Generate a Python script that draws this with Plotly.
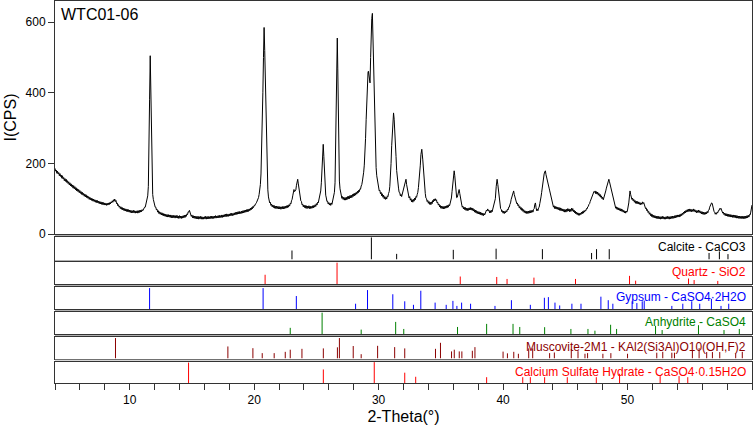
import plotly.graph_objects as go
from plotly.subplots import make_subplots

# ---------------- data ----------------
sample_name = "WTC01-06"

pattern = [
    (4.0, 186), (4.05, 178), (4.1, 181), (4.15, 172), (4.2, 178), (4.25, 170), (4.3, 174), (4.35, 165),
    (4.4, 171), (4.45, 163), (4.5, 167), (4.55, 158), (4.6, 165), (4.65, 156), (4.7, 160), (4.75, 151),
    (4.8, 157), (4.85, 149), (4.9, 155), (4.95, 146), (5.0, 151), (5.05, 143), (5.1, 148), (5.15, 139),
    (5.2, 145), (5.25, 136), (5.3, 142), (5.35, 134), (5.4, 139), (5.45, 130), (5.5, 137), (5.55, 128),
    (5.6, 134), (5.65, 125), (5.7, 131), (5.75, 122), (5.8, 128), (5.85, 120), (5.9, 126), (5.95, 117),
    (6.0, 123), (6.05, 115), (6.1, 120), (6.15, 112), (6.2, 118), (6.25, 110), (6.3, 115), (6.35, 107),
    (6.4, 113), (6.45, 105), (6.5, 111), (6.55, 103), (6.6, 108), (6.65, 101), (6.7, 106), (6.75, 98),
    (6.8, 104), (6.85, 97), (6.9, 102), (6.95, 95), (7.0, 100), (7.05, 93), (7.1, 99), (7.15, 92),
    (7.2, 97), (7.25, 90), (7.3, 96), (7.35, 89), (7.4, 95), (7.45, 88), (7.5, 93), (7.55, 86),
    (7.6, 92), (7.65, 85), (7.7, 91), (7.75, 84), (7.8, 90), (7.85, 83), (7.9, 89), (7.95, 82),
    (8.0, 88), (8.05, 82), (8.1, 87), (8.15, 81), (8.2, 87), (8.25, 82), (8.3, 88), (8.35, 83),
    (8.4, 89), (8.45, 85), (8.5, 91), (8.55, 88), (8.6, 94), (8.65, 90), (8.7, 97), (8.75, 93),
    (8.8, 99), (8.85, 92), (8.9, 95), (8.95, 86), (9.0, 88), (9.05, 80), (9.1, 83), (9.15, 76),
    (9.2, 79), (9.25, 72), (9.3, 77), (9.35, 70), (9.4, 75), (9.45, 68), (9.5, 73), (9.55, 66),
    (9.6, 72), (9.65, 65), (9.7, 71), (9.75, 64), (9.8, 70), (9.85, 63), (9.9, 69), (9.95, 62),
    (10.0, 68), (10.05, 61), (10.1, 67), (10.15, 60), (10.2, 66), (10.25, 60), (10.3, 67), (10.35, 60),
    (10.4, 66), (10.45, 59), (10.5, 65), (10.55, 60), (10.6, 66), (10.65, 59), (10.7, 66), (10.75, 60),
    (10.8, 67), (10.85, 62), (10.9, 68), (10.95, 63), (11.0, 69), (11.05, 66), (11.1, 71), (11.15, 70),
    (11.2, 76), (11.25, 76), (11.3, 83), (11.35, 86), (11.4, 95), (11.45, 108), (11.5, 135),
    (11.55, 220), (11.6, 380), (11.65, 505), (11.7, 400), (11.75, 240), (11.8, 142), (11.85, 112),
    (11.9, 98), (11.95, 88), (12.0, 84), (12.05, 76), (12.1, 76), (12.15, 68), (12.2, 70), (12.25, 62),
    (12.3, 66), (12.35, 58), (12.4, 63), (12.45, 56), (12.5, 61), (12.55, 54), (12.6, 60), (12.65, 53),
    (12.7, 58), (12.75, 51), (12.8, 57), (12.85, 50), (12.9, 56), (12.95, 49), (13.0, 55), (13.05, 48),
    (13.1, 55), (13.15, 48), (13.2, 54), (13.25, 47), (13.3, 54), (13.35, 46), (13.4, 53), (13.45, 46),
    (13.5, 53), (13.55, 46), (13.6, 52), (13.65, 45), (13.7, 52), (13.75, 46), (13.8, 53), (13.85, 45),
    (13.9, 51), (13.95, 44), (14.0, 52), (14.05, 45), (14.1, 51), (14.15, 44), (14.2, 51), (14.25, 45),
    (14.3, 52), (14.35, 46), (14.4, 53), (14.45, 47), (14.5, 54), (14.55, 50), (14.6, 57), (14.65, 55),
    (14.7, 63), (14.75, 62), (14.8, 67), (14.85, 58), (14.9, 58), (14.95, 50), (15.0, 54), (15.05, 46),
    (15.1, 52), (15.15, 45), (15.2, 51), (15.25, 44), (15.3, 50), (15.35, 43), (15.4, 50), (15.45, 43),
    (15.5, 50), (15.55, 42), (15.6, 49), (15.65, 43), (15.7, 50), (15.75, 42), (15.8, 49), (15.85, 42),
    (15.9, 48), (15.95, 42), (16.0, 49), (16.05, 43), (16.1, 50), (16.15, 42), (16.2, 49), (16.25, 43),
    (16.3, 50), (16.35, 43), (16.4, 49), (16.45, 43), (16.5, 50), (16.55, 44), (16.6, 51), (16.65, 44),
    (16.7, 50), (16.75, 44), (16.8, 51), (16.85, 45), (16.9, 52), (16.95, 45), (17.0, 51), (17.05, 46),
    (17.1, 52), (17.15, 46), (17.2, 53), (17.25, 46), (17.3, 52), (17.35, 47), (17.4, 54), (17.45, 47),
    (17.5, 54), (17.55, 48), (17.6, 55), (17.65, 49), (17.7, 56), (17.75, 49), (17.8, 57), (17.85, 50),
    (17.9, 56), (17.95, 50), (18.0, 57), (18.05, 51), (18.1, 58), (18.15, 52), (18.2, 59), (18.25, 52),
    (18.3, 58), (18.35, 53), (18.4, 60), (18.45, 54), (18.5, 61), (18.55, 55), (18.6, 62), (18.65, 56),
    (18.7, 63), (18.75, 57), (18.8, 64), (18.85, 57), (18.9, 63), (18.95, 58), (19.0, 65), (19.05, 59),
    (19.1, 66), (19.15, 60), (19.2, 67), (19.25, 61), (19.3, 68), (19.35, 62), (19.4, 69), (19.45, 63),
    (19.5, 70), (19.55, 64), (19.6, 71), (19.65, 66), (19.7, 73), (19.75, 68), (19.8, 75), (19.85, 71),
    (19.9, 78), (19.95, 75), (20.0, 81), (20.05, 80), (20.1, 85), (20.15, 86), (20.2, 90), (20.25, 93),
    (20.3, 98), (20.35, 103), (20.4, 112), (20.45, 122), (20.5, 140), (20.55, 170), (20.6, 225),
    (20.65, 300), (20.7, 400), (20.75, 500), (20.8, 585), (20.85, 520), (20.9, 430), (20.95, 320),
    (21.0, 220), (21.05, 160), (21.1, 125), (21.15, 105), (21.2, 98), (21.25, 88), (21.3, 90),
    (21.35, 81), (21.4, 85), (21.45, 77), (21.5, 82), (21.55, 75), (21.6, 81), (21.65, 73), (21.7, 79),
    (21.75, 72), (21.8, 79), (21.85, 72), (21.9, 78), (21.95, 71), (22.0, 78), (22.05, 71), (22.1, 77),
    (22.15, 70), (22.2, 77), (22.25, 71), (22.3, 78), (22.35, 71), (22.4, 78), (22.45, 72), (22.5, 79),
    (22.55, 73), (22.6, 80), (22.65, 74), (22.7, 81), (22.75, 76), (22.8, 83), (22.85, 79), (22.9, 87),
    (22.95, 85), (23.0, 94), (23.05, 98), (23.1, 108), (23.15, 118), (23.2, 126), (23.25, 120),
    (23.3, 122), (23.35, 125), (23.4, 138), (23.45, 148), (23.5, 155), (23.55, 142), (23.6, 128),
    (23.65, 115), (23.7, 106), (23.75, 94), (23.8, 92), (23.85, 83), (23.9, 85), (23.95, 77),
    (24.0, 82), (24.05, 75), (24.1, 81), (24.15, 73), (24.2, 80), (24.25, 72), (24.3, 79), (24.35, 73),
    (24.4, 80), (24.45, 72), (24.5, 79), (24.55, 72), (24.6, 78), (24.65, 73), (24.7, 80), (24.75, 74),
    (24.8, 81), (24.85, 76), (24.9, 83), (24.95, 78), (25.0, 86), (25.05, 82), (25.1, 90), (25.15, 88),
    (25.2, 96), (25.25, 100), (25.3, 110), (25.35, 122), (25.4, 145), (25.45, 190), (25.5, 235),
    (25.55, 254), (25.6, 220), (25.65, 165), (25.7, 130), (25.75, 110), (25.8, 102), (25.85, 92),
    (25.9, 93), (25.95, 85), (26.0, 89), (26.05, 82), (26.1, 87), (26.15, 81), (26.2, 88), (26.25, 84),
    (26.3, 92), (26.35, 95), (26.4, 105), (26.45, 118), (26.5, 145), (26.55, 250), (26.6, 420),
    (26.65, 530), (26.68, 555), (26.72, 470), (26.75, 380), (26.8, 200), (26.85, 150), (26.9, 128),
    (26.95, 115), (27.0, 110), (27.05, 101), (27.1, 106), (27.15, 98), (27.2, 104), (27.25, 96),
    (27.3, 103), (27.35, 96), (27.4, 104), (27.45, 97), (27.5, 106), (27.55, 99), (27.6, 107),
    (27.65, 100), (27.7, 109), (27.75, 102), (27.8, 110), (27.85, 103), (27.9, 112), (27.95, 106),
    (28.0, 114), (28.05, 108), (28.1, 116), (28.15, 110), (28.2, 118), (28.25, 113), (28.3, 121),
    (28.35, 116), (28.4, 124), (28.45, 120), (28.5, 128), (28.55, 127), (28.6, 136), (28.65, 140),
    (28.7, 150), (28.75, 160), (28.8, 175), (28.85, 195), (28.9, 225), (28.95, 270), (29.0, 325),
    (29.05, 385), (29.1, 435), (29.15, 458), (29.18, 461), (29.22, 445), (29.27, 430), (29.31, 428),
    (29.36, 500), (29.4, 565), (29.45, 610), (29.5, 625), (29.55, 540), (29.6, 440), (29.65, 350),
    (29.7, 280), (29.75, 225), (29.8, 188), (29.85, 165), (29.9, 150), (29.95, 140), (30.0, 131),
    (30.05, 122), (30.1, 124), (30.15, 114), (30.2, 118), (30.25, 108), (30.3, 114), (30.35, 104),
    (30.4, 110), (30.45, 100), (30.5, 106), (30.55, 98), (30.6, 104), (30.65, 99), (30.7, 108),
    (30.75, 106), (30.8, 115), (30.85, 120), (30.9, 135), (30.95, 160), (31.0, 200), (31.05, 250),
    (31.1, 300), (31.15, 330), (31.2, 343), (31.25, 325), (31.3, 300), (31.35, 265), (31.4, 220),
    (31.45, 180), (31.5, 152), (31.55, 138), (31.6, 130), (31.65, 118), (31.7, 117), (31.75, 108),
    (31.8, 112), (31.85, 106), (31.9, 114), (31.95, 115), (32.0, 128), (32.05, 135), (32.1, 148),
    (32.15, 150), (32.2, 155), (32.25, 140), (32.3, 130), (32.35, 115), (32.4, 112), (32.45, 102),
    (32.5, 106), (32.55, 96), (32.6, 100), (32.65, 91), (32.7, 97), (32.75, 90), (32.8, 98),
    (32.85, 93), (32.9, 102), (32.95, 97), (33.0, 106), (33.05, 104), (33.1, 112), (33.15, 118),
    (33.2, 132), (33.25, 148), (33.3, 170), (33.35, 195), (33.4, 225), (33.47, 240), (33.55, 210),
    (33.6, 180), (33.65, 155), (33.7, 130), (33.75, 115), (33.8, 102), (33.85, 100), (33.9, 92),
    (33.95, 95), (34.0, 87), (34.05, 92), (34.1, 84), (34.15, 90), (34.2, 83), (34.25, 91), (34.3, 86),
    (34.35, 95), (34.4, 91), (34.45, 99), (34.5, 94), (34.55, 100), (34.6, 95), (34.65, 97),
    (34.7, 88), (34.75, 90), (34.8, 82), (34.85, 85), (34.9, 77), (34.95, 81), (35.0, 73),
    (35.05, 79), (35.1, 72), (35.15, 78), (35.2, 71), (35.25, 78), (35.3, 72), (35.35, 79), (35.4, 73),
    (35.45, 80), (35.5, 74), (35.55, 81), (35.6, 76), (35.65, 83), (35.7, 80), (35.75, 88), (35.8, 90),
    (35.85, 102), (35.9, 120), (35.95, 145), (36.0, 165), (36.07, 179), (36.12, 165), (36.17, 140),
    (36.22, 112), (36.27, 103), (36.32, 104), (36.37, 112), (36.42, 120), (36.47, 126), (36.52, 115),
    (36.57, 100), (36.62, 88), (36.67, 85), (36.72, 76), (36.77, 79), (36.82, 71), (36.87, 76),
    (36.92, 69), (36.97, 75), (37.02, 67), (37.07, 73), (37.12, 66), (37.17, 73), (37.22, 67),
    (37.27, 74), (37.32, 68), (37.37, 75), (37.42, 68), (37.47, 74), (37.52, 67), (37.57, 73),
    (37.62, 65), (37.67, 70), (37.72, 62), (37.77, 68), (37.82, 60), (37.87, 66), (37.92, 58),
    (37.97, 64), (38.02, 57), (38.07, 63), (38.12, 56), (38.17, 62), (38.22, 54), (38.27, 60),
    (38.32, 53), (38.37, 59), (38.42, 52), (38.47, 58), (38.52, 54), (38.57, 61), (38.62, 60),
    (38.67, 68), (38.72, 66), (38.77, 71), (38.82, 65), (38.87, 67), (38.92, 60), (38.97, 66),
    (39.02, 60), (39.07, 67), (39.12, 63), (39.17, 70), (39.22, 70), (39.27, 80), (39.32, 88),
    (39.38, 100), (39.45, 135), (39.52, 155), (39.58, 140), (39.65, 110), (39.7, 90), (39.75, 80),
    (39.8, 72), (39.85, 70), (39.9, 63), (39.95, 66), (40.0, 59), (40.05, 65), (40.1, 58), (40.15, 64),
    (40.2, 60), (40.25, 66), (40.3, 63), (40.35, 70), (40.4, 68), (40.45, 76), (40.5, 76), (40.55, 84),
    (40.6, 88), (40.65, 98), (40.7, 104), (40.75, 112), (40.8, 118), (40.85, 122), (40.9, 112),
    (40.95, 106), (41.0, 98), (41.05, 94), (41.1, 86), (41.15, 88), (41.2, 80), (41.25, 83),
    (41.3, 74), (41.35, 78), (41.4, 70), (41.45, 75), (41.5, 67), (41.55, 72), (41.6, 64), (41.65, 69),
    (41.7, 61), (41.75, 66), (41.8, 59), (41.85, 65), (41.9, 58), (41.95, 64), (42.0, 58), (42.05, 65),
    (42.1, 59), (42.15, 66), (42.2, 60), (42.25, 67), (42.3, 61), (42.35, 67), (42.4, 62), (42.45, 70),
    (42.5, 72), (42.55, 84), (42.6, 88), (42.65, 75), (42.7, 66), (42.75, 70), (42.8, 66), (42.85, 74),
    (42.9, 76), (42.95, 86), (43.0, 92), (43.05, 105), (43.1, 118), (43.15, 135), (43.2, 150),
    (43.25, 160), (43.3, 170), (43.35, 176), (43.4, 179), (43.45, 168), (43.5, 158), (43.55, 152),
    (43.6, 145), (43.65, 137), (43.7, 130), (43.75, 122), (43.8, 114), (43.85, 104), (43.9, 96),
    (43.95, 88), (44.0, 84), (44.05, 76), (44.1, 80), (44.15, 72), (44.2, 78), (44.25, 71), (44.3, 77),
    (44.35, 70), (44.4, 76), (44.45, 69), (44.5, 75), (44.55, 67), (44.6, 74), (44.65, 66), (44.7, 72),
    (44.75, 65), (44.8, 71), (44.85, 64), (44.9, 70), (44.95, 62), (45.0, 69), (45.05, 62), (45.1, 70),
    (45.15, 64), (45.2, 72), (45.25, 65), (45.3, 71), (45.35, 63), (45.4, 70), (45.45, 64), (45.5, 73),
    (45.55, 66), (45.6, 72), (45.65, 63), (45.7, 68), (45.75, 60), (45.8, 65), (45.85, 57), (45.9, 62),
    (45.95, 55), (46.0, 60), (46.05, 53), (46.1, 59), (46.15, 53), (46.2, 59), (46.25, 55), (46.3, 62),
    (46.35, 57), (46.4, 64), (46.45, 59), (46.5, 66), (46.55, 62), (46.6, 68), (46.65, 66), (46.7, 72),
    (46.75, 71), (46.8, 77), (46.85, 78), (46.9, 84), (46.95, 86), (47.0, 92), (47.05, 96), (47.1, 102),
    (47.15, 106), (47.2, 112), (47.25, 114), (47.3, 120), (47.35, 118), (47.4, 122), (47.45, 114),
    (47.5, 120), (47.55, 113), (47.6, 119), (47.65, 110), (47.7, 115), (47.75, 107), (47.8, 112),
    (47.85, 104), (47.9, 108), (47.95, 100), (48.0, 104), (48.05, 97), (48.1, 102), (48.15, 108),
    (48.2, 115), (48.25, 122), (48.3, 130), (48.35, 138), (48.4, 146), (48.45, 150), (48.5, 155),
    (48.55, 148), (48.6, 140), (48.65, 132), (48.7, 125), (48.75, 116), (48.8, 110), (48.85, 100),
    (48.9, 92), (48.95, 84), (49.0, 80), (49.05, 73), (49.1, 77), (49.15, 70), (49.2, 75), (49.25, 68),
    (49.3, 74), (49.35, 67), (49.4, 72), (49.45, 65), (49.5, 71), (49.55, 64), (49.6, 69), (49.65, 62),
    (49.7, 67), (49.75, 60), (49.8, 65), (49.85, 59), (49.9, 65), (49.95, 62), (50.0, 68), (50.05, 75),
    (50.1, 88), (50.15, 105), (50.2, 122), (50.25, 112), (50.3, 104), (50.35, 98), (50.4, 102),
    (50.45, 94), (50.5, 98), (50.55, 90), (50.6, 95), (50.65, 87), (50.7, 93), (50.75, 86), (50.8, 92),
    (50.85, 85), (50.9, 91), (50.95, 84), (51.0, 89), (51.05, 83), (51.1, 88), (51.15, 84), (51.2, 91),
    (51.25, 86), (51.3, 89), (51.35, 80), (51.4, 81), (51.45, 72), (51.5, 74), (51.55, 66), (51.6, 69),
    (51.65, 61), (51.7, 64), (51.75, 56), (51.8, 60), (51.85, 52), (51.9, 57), (51.95, 49), (52.0, 55),
    (52.05, 47), (52.1, 53), (52.15, 46), (52.2, 52), (52.25, 45), (52.3, 51), (52.35, 44), (52.4, 50),
    (52.45, 43), (52.5, 50), (52.55, 43), (52.6, 49), (52.65, 42), (52.7, 49), (52.75, 43), (52.8, 50),
    (52.85, 43), (52.9, 49), (52.95, 42), (53.0, 48), (53.05, 42), (53.1, 49), (53.15, 43), (53.2, 50),
    (53.25, 43), (53.3, 49), (53.35, 42), (53.4, 49), (53.45, 43), (53.5, 50), (53.55, 44), (53.6, 51),
    (53.65, 44), (53.7, 50), (53.75, 45), (53.8, 52), (53.85, 46), (53.9, 53), (53.95, 47), (54.0, 54),
    (54.05, 48), (54.1, 54), (54.15, 48), (54.2, 55), (54.25, 50), (54.3, 57), (54.35, 52), (54.4, 59),
    (54.45, 55), (54.5, 62), (54.55, 58), (54.6, 65), (54.65, 60), (54.7, 67), (54.75, 62), (54.8, 69),
    (54.85, 63), (54.9, 70), (54.95, 64), (55.0, 71), (55.05, 64), (55.1, 70), (55.15, 63), (55.2, 69),
    (55.25, 64), (55.3, 71), (55.35, 64), (55.4, 69), (55.45, 62), (55.5, 67), (55.55, 60), (55.6, 66),
    (55.65, 61), (55.7, 68), (55.75, 61), (55.8, 66), (55.85, 59), (55.9, 64), (55.95, 57), (56.0, 63),
    (56.05, 56), (56.1, 62), (56.15, 55), (56.2, 61), (56.25, 56), (56.3, 62), (56.35, 57), (56.4, 64),
    (56.45, 60), (56.5, 67), (56.55, 68), (56.6, 76), (56.65, 80), (56.7, 86), (56.75, 88), (56.8, 87),
    (56.85, 78), (56.9, 72), (56.95, 64), (57.0, 62), (57.05, 56), (57.1, 60), (57.15, 56), (57.2, 62),
    (57.25, 60), (57.3, 66), (57.35, 66), (57.4, 72), (57.45, 70), (57.5, 73), (57.55, 66), (57.6, 67),
    (57.65, 59), (57.7, 62), (57.75, 55), (57.8, 59), (57.85, 52), (57.9, 58), (57.95, 51), (58.0, 57),
    (58.05, 50), (58.1, 56), (58.15, 49), (58.2, 55), (58.25, 48), (58.3, 55), (58.35, 48), (58.4, 54),
    (58.45, 47), (58.5, 54), (58.55, 47), (58.6, 53), (58.65, 46), (58.7, 53), (58.75, 45), (58.8, 52),
    (58.85, 45), (58.9, 51), (58.95, 44), (59.0, 51), (59.05, 44), (59.1, 50), (59.15, 44), (59.2, 51),
    (59.25, 44), (59.3, 50), (59.35, 43), (59.4, 50), (59.45, 44), (59.5, 51), (59.55, 45), (59.6, 52),
    (59.65, 46), (59.7, 53), (59.75, 48), (59.8, 55), (59.85, 54), (59.9, 62), (59.95, 70), (60.0, 82),
]
two_theta = [p[0] for p in pattern]
cps = [p[1] for p in pattern]

# reference stick patterns (position in 2-theta, relative intensity %)
calcite_pos = [23.04, 29.42, 31.45, 36.0, 39.44, 43.16, 47.11, 47.51, 48.53, 56.55, 57.38, 58.07]
calcite_int = [40, 98, 25, 43, 48, 46, 29, 46, 46, 29, 36, 24]

quartz_pos = [20.88, 26.66, 36.56, 39.49, 40.32, 42.48, 45.82, 50.16, 50.65, 54.9, 55.35, 57.25]
quartz_int = [42, 97, 34, 32, 23, 29, 23, 37, 15, 25, 18, 14]

gypsum_pos = [11.6, 20.72, 23.39, 28.15, 29.11, 31.14, 32.1, 32.8, 33.39, 34.54,
              35.43, 35.97, 36.29, 36.67, 37.39, 39.35, 40.67, 42.19, 43.32, 43.64,
              44.17, 44.55, 45.53, 46.26, 47.86, 48.45, 48.82, 50.37, 50.75, 51.18,
              51.34, 53.56, 54.44, 55.16, 55.8, 56.74, 57.51, 58.13]
gypsum_int = [95, 95, 59, 24, 86, 67, 35, 19, 83, 29,
              19, 37, 14, 29, 24, 14, 40, 19, 51, 54,
              29, 16, 24, 24, 56, 40, 24, 35, 27, 35,
              38, 14, 24, 35, 24, 46, 14, 24]

anhydrite_pos = [22.9, 25.46, 28.6, 31.37, 32.02, 36.34, 38.68, 40.8, 41.34, 43.34,
                 45.45, 46.82, 47.38, 48.64, 49.12, 52.25, 52.78, 55.7, 57.75, 58.98]
anhydrite_int = [28, 97, 20, 55, 23, 32, 46, 46, 32, 31,
                 23, 23, 15, 42, 23, 37, 18, 40, 18, 23]

muscovite_pos = [8.86, 17.89, 19.9, 20.65, 21.61, 22.5, 22.9, 23.84, 25.56, 26.69,
                 26.85, 27.96, 28.6, 29.92, 31.29, 32.1, 34.57, 34.97, 35.86, 36.08,
                 36.48, 36.69, 37.53, 37.74, 40.0, 40.35, 40.86, 41.23, 42.06, 42.38,
                 43.74, 44.12, 45.48, 46.02, 46.58, 46.79, 48.02, 48.66, 50.0, 52.35,
                 52.83, 53.56, 53.77, 55.21, 55.75, 56.36, 56.82, 57.41, 58.69, 59.22]
muscovite_int = [95, 56, 48, 25, 25, 31, 41, 45, 47, 52,
                 95, 58, 20, 59, 53, 47, 45, 73, 33, 41,
                 33, 33, 36, 53, 32, 24, 31, 22, 47, 47,
                 25, 28, 44, 34, 22, 25, 22, 25, 22, 27,
                 31, 27, 27, 36, 48, 30, 30, 30, 23, 31]

bassanite_pos = [14.73, 25.56, 29.65, 32.1, 32.98, 38.68, 41.58, 42.19, 43.34, 45.16,
                 47.49, 49.36, 52.62, 54.14, 54.84]
bassanite_int = [95, 63, 97, 48, 29, 27, 27, 27, 27, 27, 27, 43, 32, 32, 27]

phase_labels = [
    "Calcite - CaCO3",
    "Quartz - SiO2",
    "Gypsum - CaSO4\u00b72H2O",
    "Anhydrite - CaSO4",
    "Muscovite-2M1 - KAl2(Si3Al)O10(OH,F)2",
    "Calcium Sulfate Hydrate - CaSO4\u00b70.15H2O",
]
phase_colors = ["#000000", "#ff0000", "#0000ff", "#008000", "#8b0000", "#ff0000"]
phase_data = [
    (calcite_pos, calcite_int),
    (quartz_pos, quartz_int),
    (gypsum_pos, gypsum_int),
    (anhydrite_pos, anhydrite_int),
    (muscovite_pos, muscovite_int),
    (bassanite_pos, bassanite_int),
]

x_range = [4, 60]
y_main_range = [0, 660]
y_ticks = [0, 200, 400, 600]

# ---------------- layout geometry ----------------
W, H = 753, 426
M_L, M_R, M_T, M_B = 55, 1, 1, 43
PH = H - M_T - M_B  # plot-area height in px


def py(px_from_top):
    """convert an absolute pixel y (from top of figure) to paper coordinate"""
    return (H - M_B - px_from_top) / PH


main_domain = [py(234), py(1)]
panel_px = [(237, 259.5), (262, 284), (287, 309), (312, 334), (337, 358.5), (361.5, 383)]
panel_domains = [[py(b), py(t)] for (t, b) in panel_px]

FONT = "Liberation Sans, Arial, sans-serif"
LINE_C = "#333333"

fig = make_subplots(rows=7, cols=1, shared_xaxes=True, vertical_spacing=0)

fig.add_trace(
    go.Scatter(x=two_theta, y=cps, mode="lines",
               line=dict(color="#000000", width=1), showlegend=False, hoverinfo="x+y"),
    row=1, col=1,
)

for i, ((pos, inten), col) in enumerate(zip(phase_data, phase_colors)):
    xs, ys = [], []
    for p, v in zip(pos, inten):
        xs += [p, p, None]
        ys += [0, v, None]
    fig.add_trace(
        go.Scatter(x=xs, y=ys, mode="lines", line=dict(color=col, width=1),
                   showlegend=False, hoverinfo="skip"),
        row=i + 2, col=1,
    )

# axes
for r in range(1, 8):
    xa = "xaxis" if r == 1 else f"xaxis{r}"
    ya = "yaxis" if r == 1 else f"yaxis{r}"
    fig.layout[xa].update(range=x_range, showline=True, mirror=True, linecolor=LINE_C,
                          linewidth=1, showgrid=False, zeroline=False, ticks="",
                          showticklabels=False)
    if r == 1:
        fig.layout[ya].update(domain=main_domain, range=y_main_range, showline=True,
                              mirror=True, linecolor=LINE_C, linewidth=1, showgrid=False,
                              zeroline=False, ticks="outside", ticklen=6, tickcolor=LINE_C,
                              tickvals=y_ticks, tickfont=dict(family=FONT, size=12, color="#000"),
                              title=dict(text="I(CPS)", font=dict(family=FONT, size=16, color="#000"),
                                         standoff=4))
    else:
        fig.layout[ya].update(domain=panel_domains[r - 2], range=[0, 100], showline=True,
                              mirror=True, linecolor=LINE_C, linewidth=1, showgrid=False,
                              zeroline=False, ticks="", showticklabels=False, fixedrange=True)

fig.layout["xaxis7"].update(ticks="outside", ticklen=6, tickcolor=LINE_C, showticklabels=True,
                            tick0=0, dtick=10,
                            minor=dict(ticks="outside", ticklen=6, tickcolor=LINE_C, dtick=2, tick0=0),
                            tickfont=dict(family=FONT, size=12, color="#000"),
                            title=dict(text="2-Theta(\u00b0)", font=dict(family=FONT, size=16, color="#000"),
                                       standoff=4))

annotations = [
    dict(text=sample_name, xref="paper", yref="paper", x=0.006, y=py(14), xanchor="left",
         yanchor="middle", showarrow=False, font=dict(family=FONT, size=16, color="#000")),
]
shapes = []
for (t, b), lbl, col in zip(panel_px, phase_labels, phase_colors):
    annotations.append(dict(text=lbl, xref="paper", yref="paper", x=0.994, y=py(t + 10),
                            xanchor="right", yanchor="middle", showarrow=False,
                            font=dict(family=FONT, size=12, color=col)))
    shapes.append(dict(type="line", xref="paper", yref="paper", x0=0, x1=1,
                       y0=py(t - 1.5), y1=py(t - 1.5), line=dict(color="#b0b0b0", width=1)))

fig.update_layout(
    width=W, height=H,
    margin=dict(l=M_L, r=M_R, t=M_T, b=M_B),
    paper_bgcolor="white", plot_bgcolor="white",
    showlegend=False,
    annotations=annotations,
    shapes=shapes,
    font=dict(family=FONT, color="#000"),
)

fig.write_html("out.html",
               config={"displayModeBar": False},
               post_script="document.body.style.margin='0px';document.body.style.padding='0px';")
